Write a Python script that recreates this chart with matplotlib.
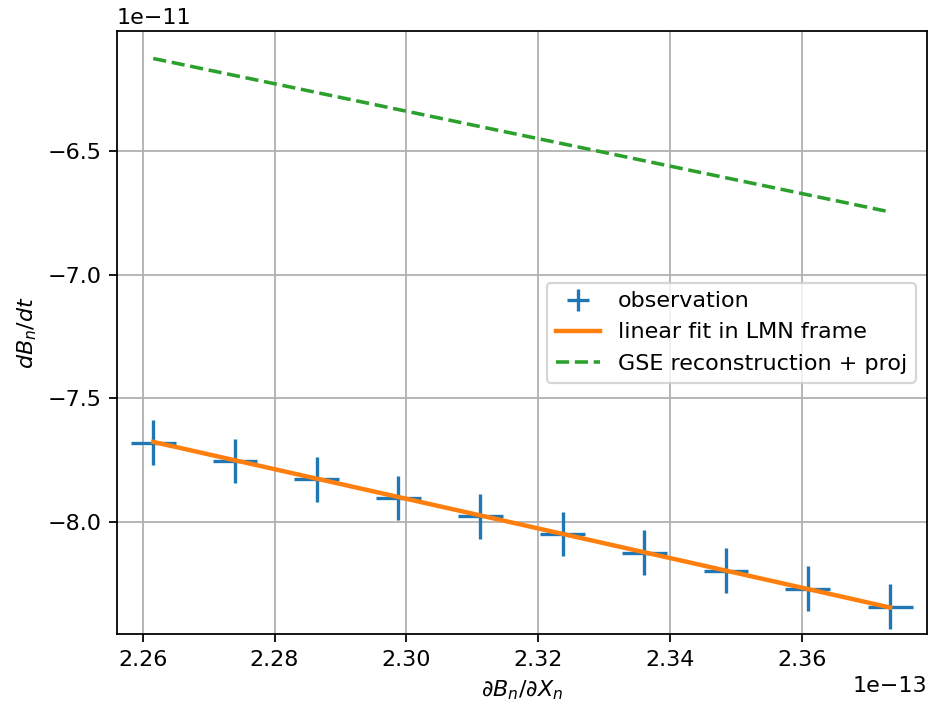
import numpy as np
import matplotlib
matplotlib.use('Agg')
import matplotlib.pyplot as plt

# observation points (x in 1e-13, y in 1e-11)
obs_x = [2.2616, 2.2740, 2.2864, 2.2988, 2.3112, 2.3237, 2.3361, 2.3485, 2.3609, 2.3734]
obs_y = [-7.679, -7.753, -7.827, -7.902, -7.977, -8.048, -8.123, -8.196, -8.269, -8.342]
x_err = 0.0034
y_err = 0.09

# linear fit in LMN frame (endpoints)
fit_x = [2.2616, 2.3734]
fit_y = [-7.676, -8.345]

# GSE reconstruction + projection (endpoints)
gse_x = [2.2616, 2.3734]
gse_y = [-6.127, -6.747]

sx = 1e-13
sy = 1e-11

dpi = 160
fig = plt.figure(figsize=(929 / dpi, 709 / dpi), dpi=dpi)
ax = fig.add_axes([117 / 929, 75 / 709, 810 / 929, 603 / 709])

eb = ax.errorbar(np.array(obs_x) * sx, np.array(obs_y) * sy,
                 xerr=x_err * sx, yerr=y_err * sy, fmt='none',
                 ecolor='tab:blue', label='observation')
fit_line, = ax.plot(np.array(fit_x) * sx, np.array(fit_y) * sy, color='tab:orange',
                    lw=2, label='linear fit in LMN frame')
gse_line, = ax.plot(np.array(gse_x) * sx, np.array(gse_y) * sy, '--', color='tab:green',
                    lw=1.6, label='GSE reconstruction + proj')

ax.set_xlim(2.2561 * sx, 2.379 * sx)
ax.set_ylim(-8.452 * sy, -6.016 * sy)
ax.grid(True)
ax.set_xlabel(r'$\partial B_n/\partial X_n$')
ax.set_ylabel(r'$dB_n/dt$')
ax.legend(handles=[eb, fit_line, gse_line], loc='center right')

fig.savefig('out.png', dpi=dpi)
